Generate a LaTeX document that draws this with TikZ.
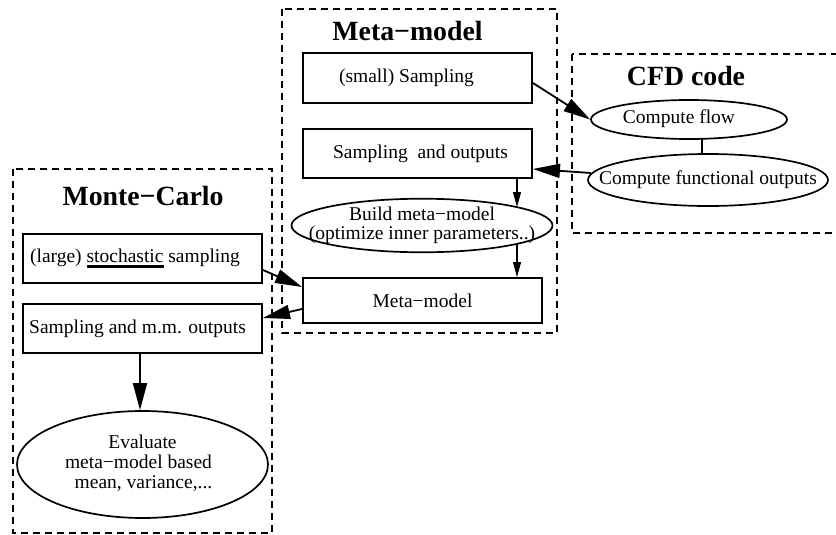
\documentclass[tikz,border=0pt]{standalone}
\usepackage{fontspec}
\setmainfont{Liberation Serif}
\usetikzlibrary{shapes.geometric,arrows.meta,calc}
\newcommand\thickul[1]{\leavevmode\vtop{\hbox{#1}\kern2.2pt\hrule height 3.4pt}}
\newcommand\ctext[2][19]{\makebox[0pt]{\fontsize{19.5pt}{#1pt}\selectfont\begin{tabular}{@{}c@{}}#2\end{tabular}}}
\tikzset{
  boxnode/.style={draw, line width=1.9pt, rectangle, inner sep=0pt, font=\fontsize{19.5pt}{19pt}\selectfont},
  ellnode/.style={draw, line width=1.7pt, ellipse, inner sep=0pt},
  titlenode/.style={inner sep=0pt, font=\fontsize{27.8pt}{28pt}\selectfont\bfseries},
  cluster/.style={draw, line width=1.7pt, dash pattern=on 7pt off 5pt},
  bigarrow/.style={line width=1.8pt, -{Triangle[length=27pt,width=14pt]}},
  smallarrow/.style={line width=1.1pt, -{Triangle[length=15pt,width=8pt]}},
}
\begin{document}
\begin{tikzpicture}[x=1pt, y=-1pt]
\clip (0,0) rectangle (836,535);
\fill[white] (0,0) rectangle (836,535);

% clusters
\draw[cluster] (282,9) rectangle (557,333);
\draw[cluster] (572,54) rectangle (850,233);
\draw[cluster] (13,169) rectangle (272,533);

% titles
\node[titlenode] (tmm) at (407.5,31) {Meta−model};
\node[titlenode] (tcfd) at (686,76) {CFD code};
\node[titlenode] (tmc) at (143,195.5) {Monte−Carlo};

% meta-model cluster
\node[boxnode, minimum width=229pt, minimum height=50pt] (ss) at (417.5,78) {(small) Sampling\hspace*{22pt}};
\node[boxnode, minimum width=229pt, minimum height=49pt] (sao) at (417.5,153.5) {\hspace*{6pt}Sampling\ \ and outputs};
\node[ellnode, minimum width=261pt, minimum height=53pt] (bm) at (422,225.5) {\raisebox{4pt}{\ctext[18]{Build meta−model\\(optimize inner parameters..)}}};
\node[boxnode, minimum width=239pt, minimum height=45pt] (mm) at (422.5,300.5) {Meta−model};

% CFD cluster
\node[ellnode, minimum width=196pt, minimum height=39pt] (cf) at (689,119.5) {\ctext{Compute flow\hspace*{20pt}}};
\node[ellnode, minimum width=240pt, minimum height=52pt] (cfo) at (708,180) {\ctext{Compute functional outputs}};

% Monte-Carlo cluster
\node[boxnode, minimum width=239pt, minimum height=49pt] (lss) at (142.5,258.5) {(large) \thickul{stochastic} sampling\hspace*{15pt}};
\node[boxnode, minimum width=239pt, minimum height=49pt] (smo) at (142.5,328.5) {Sampling and m.m. outputs\hspace*{10pt}};
\node[ellnode, minimum width=251pt, minimum height=107pt] (ev) at (142.5,464.5) {\raisebox{6pt}{\ctext[20]{Evaluate\\meta−model based\hspace*{8pt}\\\hspace*{2pt}mean, variance,...}}};

% connectors
\draw[bigarrow] ($(ss.east)+(0,5)$) -- (cf.west);
\draw[bigarrow] ($(cfo.center)+(-117,-7)$) -- ($(sao.east)+(0,15.5)$);
\draw[line width=1.7pt] ($(cf.south)+(13,-0.5)$) -- ($(cfo.north)+(-6,0.5)$);
\draw[smallarrow] ($(sao.south)+(99.5,0)$) -- ($(bm.center)+(95,-18.5)$);
\draw[smallarrow] ($(bm.center)+(95,18.5)$) -- ($(mm.north)+(94.5,0)$);
\draw[bigarrow] ($(lss.east)+(0,11.5)$) -- ($(mm.west)+(0,-13.5)$);
\draw[bigarrow] ($(mm.west)+(0,8.5)$) -- ($(smo.east)+(0,-10.5)$);
\draw[bigarrow] ($(smo.south)+(-2.5,0)$) -- ($(ev.north)+(-2.5,0)$);
\end{tikzpicture}
\end{document}
